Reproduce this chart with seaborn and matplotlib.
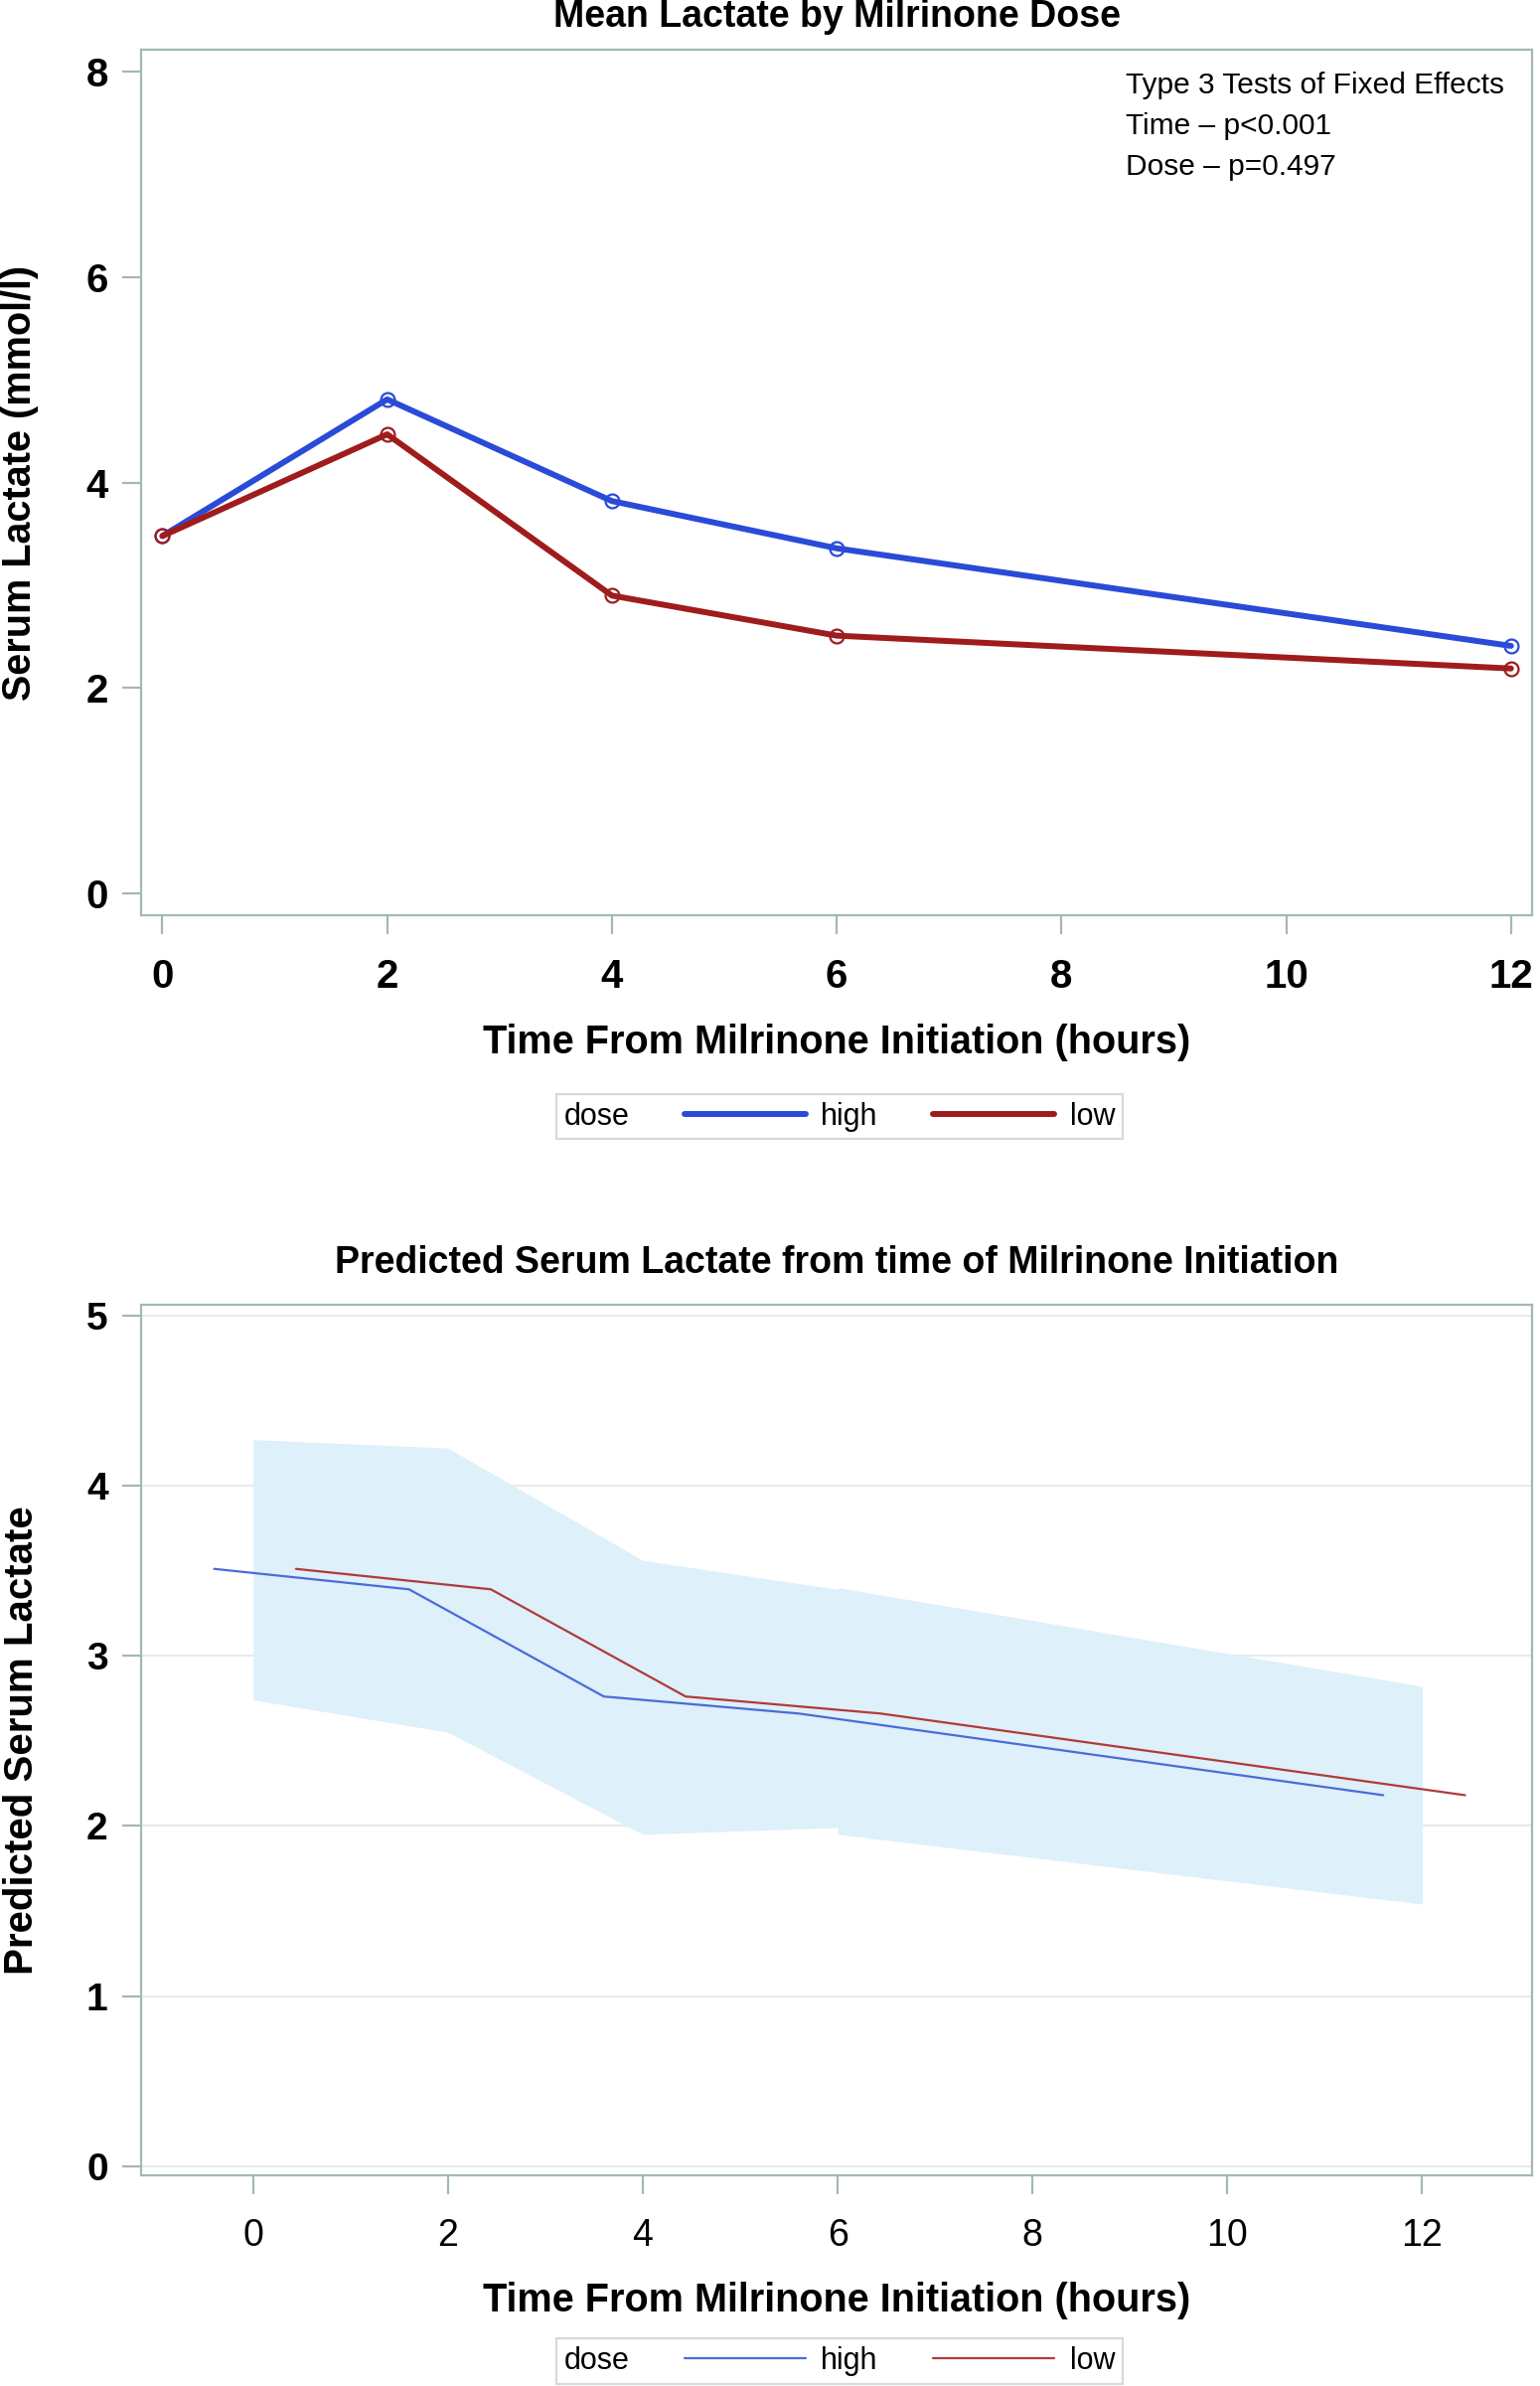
import matplotlib
matplotlib.use('Agg')
import matplotlib.pyplot as plt
import seaborn as sns
import pandas as pd
from matplotlib.lines import Line2D

# mean lactate by dose (top panel)
hours = [0, 2, 4, 6, 12]
mean_high = [3.48, 4.81, 3.82, 3.36, 2.41]
mean_low = [3.48, 4.47, 2.90, 2.51, 2.19]

# predicted lactate (bottom panel), x shifted per dose
pred_hours_high = [-0.40, 1.60, 3.60, 5.60, 11.60]
pred_hours_low = [0.44, 2.44, 4.44, 6.44, 12.44]
pred_values = [3.51, 3.39, 2.76, 2.66, 2.18]

# confidence band
band_hours = [0, 2, 4, 6, 6, 12]
band_lower = [2.74, 2.55, 1.95, 1.99, 1.95, 1.54]
band_upper = [4.27, 4.22, 3.56, 3.39, 3.40, 2.82]

doses = ['high', 'low']
top_colors = {'high': '#2A4BD7', 'low': '#A01C1C'}
bottom_colors = {'high': '#4A6BD8', 'low': '#B03A3A'}

FRAME = '#A3B8B8'

sns.set_style('white')
plt.rcParams['font.family'] = ['Liberation Sans', 'DejaVu Sans']
plt.rcParams['text.color'] = 'black'
plt.rcParams['axes.labelcolor'] = 'black'
plt.rcParams['xtick.labelcolor'] = 'black'
plt.rcParams['ytick.labelcolor'] = 'black'

top_df = pd.DataFrame({'time': hours * 2,
                       'lactate': mean_high + mean_low,
                       'dose': ['high'] * 5 + ['low'] * 5})
pred_df = pd.DataFrame({'time': pred_hours_high + pred_hours_low,
                        'lactate': pred_values + pred_values,
                        'dose': ['high'] * 5 + ['low'] * 5})

fig = plt.figure(figsize=(15.5, 24.01), dpi=100)
ax1 = fig.add_axes([0.0916, 0.6165, 0.9034, 0.3625])
ax2 = fig.add_axes([0.0916, 0.0883, 0.9034, 0.3647])


def style_axes(ax, pad):
    for s in ax.spines.values():
        s.set_color(FRAME)
        s.set_linewidth(1.6)
    ax.tick_params(axis='both', which='major', direction='out', length=14,
                   width=1.6, color=FRAME, pad=10, bottom=True, left=True)
    ax.tick_params(axis='x', pad=pad)


def inline_legend(handles, labels, y):
    leg = fig.legend(handles, labels, title='dose', ncol=2,
                     loc='center', bbox_to_anchor=(0.545, y),
                     frameon=True, fancybox=False, fontsize=22,
                     title_fontsize=22, handlelength=4.0,
                     handletextpad=0.5, columnspacing=1.2,
                     borderpad=0.25, edgecolor='#C8D2D2')
    leg.get_frame().set_linewidth(1.6)
    # put the title on the left of the entries
    vp = leg.get_children()[0]
    title_box = vp.get_children()[0]
    hpack = vp.get_children()[1]
    vp._children = [hpack]
    hpack._children = [title_box] + hpack.get_children()
    hpack.sep = 40
    return leg


# top panel
for d in doses:
    sub = top_df[top_df['dose'] == d]
    sns.lineplot(data=sub, x='time', y='lactate', ax=ax1, color=top_colors[d],
                 linewidth=4.3, marker='o', markersize=10, markerfacecolor='none',
                 markeredgecolor=top_colors[d], markeredgewidth=1.6, legend=False)

ax1.set_xlim(-0.19, 12.19)
ax1.set_ylim(-0.21, 8.21)
ax1.set_xticks([0, 2, 4, 6, 8, 10, 12])
ax1.set_yticks([0, 2, 4, 6, 8])
style_axes(ax1, 17)
for lab in ax1.get_xticklabels() + ax1.get_yticklabels():
    lab.set_fontsize(29)
    lab.set_fontweight('bold')
ax1.set_title('Mean Lactate by Milrinone Dose', fontsize=27, fontweight='bold', pad=17)
ax1.set_xlabel('Time From Milrinone Initiation (hours)', fontsize=28.5,
               fontweight='bold', labelpad=20)
ax1.set_ylabel('Serum Lactate (mmol/l)', fontsize=28.5, fontweight='bold',
               labelpad=34)
ax1.text(0.708, 0.975, 'Type 3 Tests of Fixed Effects\nTime \u2013 p<0.001\nDose \u2013 p=0.497',
         transform=ax1.transAxes, ha='left', va='top', fontsize=21.5, linespacing=1.58)

top_handles = [Line2D([], [], color=top_colors[d], linewidth=4.3) for d in doses]
inline_legend(top_handles, doses, 0.532)

# bottom panel
ax2.yaxis.grid(True, color='#E6ECEC', linewidth=1.6)
ax2.set_axisbelow(True)
ax2.fill_between(band_hours, band_lower, band_upper, color='#DEF0F9', linewidth=0)
for d in doses:
    sub = pred_df[pred_df['dose'] == d]
    sns.lineplot(data=sub, x='time', y='lactate', ax=ax2, color=bottom_colors[d],
                 linewidth=1.6, legend=False)

ax2.set_xlim(-1.15, 13.13)
ax2.set_ylim(-0.054, 5.06)
ax2.set_xticks([0, 2, 4, 6, 8, 10, 12])
ax2.set_yticks([0, 1, 2, 3, 4, 5])
style_axes(ax2, 17)
for lab in ax2.get_xticklabels():
    lab.set_fontsize(27)
for lab in ax2.get_yticklabels():
    lab.set_fontsize(28)
    lab.set_fontweight('bold')
ax2.set_title('Predicted Serum Lactate from time of Milrinone Initiation',
              fontsize=27, fontweight='bold', pad=23)
ax2.set_xlabel('Time From Milrinone Initiation (hours)', fontsize=28.5,
               fontweight='bold', labelpad=20)
ax2.set_ylabel('Predicted Serum Lactate', fontsize=29, fontweight='bold',
               labelpad=33)

bottom_handles = [Line2D([], [], color=bottom_colors[d], linewidth=1.6) for d in doses]
inline_legend(bottom_handles, doses, 0.0104)

fig.savefig('out.png', dpi=100)
